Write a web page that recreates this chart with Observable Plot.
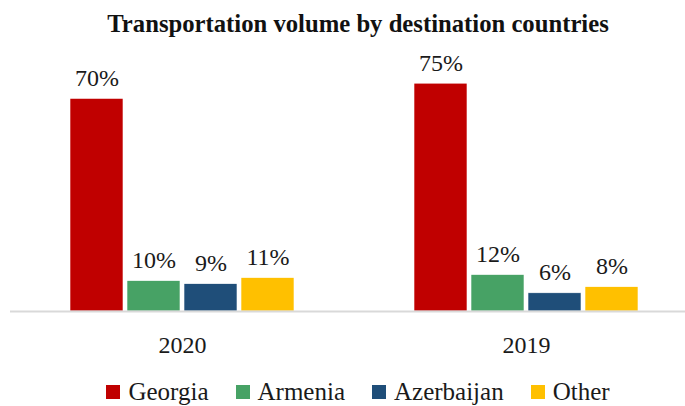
<!DOCTYPE html>
<html>
<head>
<meta charset="utf-8">
<script src="https://cdn.jsdelivr.net/npm/d3@7"></script>
<script src="https://cdn.jsdelivr.net/npm/@observablehq/plot@0.6"></script>
<style>
  html, body { margin: 0; padding: 0; background: #fff; }
  body { width: 685px; height: 406px; overflow: hidden; font-family: "Liberation Serif", serif; color: #1a1a1a; }
  #title { height: 46px; line-height: 48px; text-align: center; font-weight: bold; font-size: 24.7px; color: #111; font-family: "Liberation Serif", serif; padding-left: 31px; box-sizing: border-box; width: 685px; }
  #legend { display: flex; justify-content: center; align-items: center; gap: 27px; font-size: 25px; height: 40px; margin-top: 6px; padding-left: 31px; box-sizing: border-box; width: 685px; font-family: "Liberation Serif", serif; color: #1a1a1a; }
  #legend .item { display: flex; align-items: center; }
  #legend .sw { width: 14px; height: 14px; margin-right: 8px; }
</style>
</head>
<body>
<div id="title">Transportation volume by destination countries</div>
<div id="chart"></div>
<div id="legend"></div>
<script>
const years = ["2020", "2019"];
const countries = ["Georgia", "Armenia", "Azerbaijan", "Other"];
const values2020 = [70, 10, 9, 11];
const values2019 = [75, 12, 6, 8];
const colors = ["#C00000", "#47A265", "#1F4E79", "#FFC000"];

const seriesByYear = { "2020": values2020, "2019": values2019 };
const data = years.flatMap(year => countries.map((country, i) => ({ year, country, value: seriesByYear[year][i] })));

const chart = Plot.plot({
  width: 685,
  height: 320,
  marginLeft: 10,
  marginRight: -13,
  marginTop: 22,
  marginBottom: 55,
  style: { fontFamily: "Liberation Serif, serif", color: "#1a1a1a", background: "#fff" },
  fx: { domain: years, padding: 0, label: null },
  x: { domain: countries, axis: null, paddingInner: 0.07, paddingOuter: 1.015 },
  y: { domain: [0, 80], axis: null },
  color: { domain: countries, range: colors },
  marks: [
    Plot.barY(data, { fx: "year", x: "country", y: "value", fill: "country", stroke: "#fff", strokeWidth: 0.6 }),
    Plot.text(data, { fx: "year", x: "country", y: "value", text: d => d.value + "%", lineAnchor: "bottom", dy: -13, fontSize: 24, fill: "#1a1a1a" }),
    Plot.ruleY([0], { stroke: "#d9d9d9", strokeWidth: 2 }),
    Plot.axisFx({ anchor: "bottom", tickSize: 0, tickPadding: 24, fontSize: 24, label: null, fill: "#1a1a1a" })
  ]
});
document.getElementById("chart").appendChild(chart);

const legend = document.getElementById("legend");
countries.forEach((c, i) => {
  const item = document.createElement("div");
  item.className = "item";
  const sw = document.createElement("span");
  sw.className = "sw";
  sw.style.background = colors[i];
  const label = document.createElement("span");
  label.textContent = c;
  item.appendChild(sw);
  item.appendChild(label);
  legend.appendChild(item);
});
</script>
</body>
</html>
